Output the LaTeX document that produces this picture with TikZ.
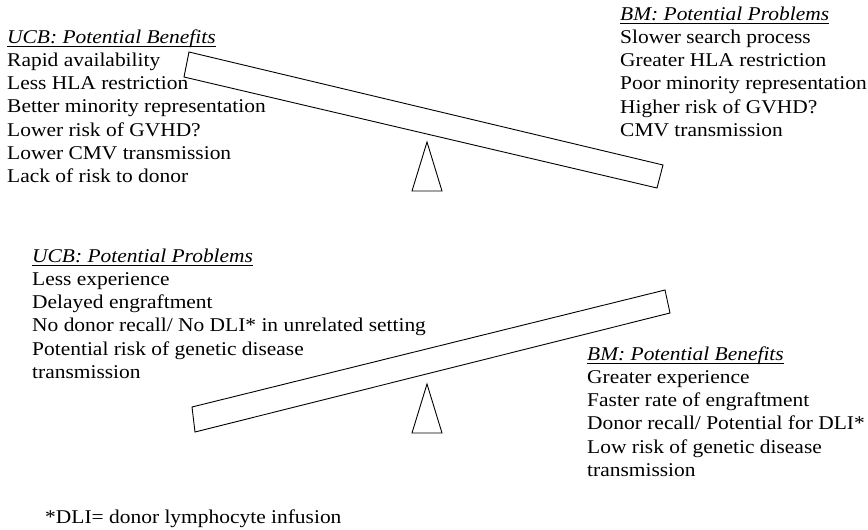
\documentclass[tikz,border=0pt]{standalone}
\usepackage{fontspec}
\setmainfont[FakeStretch=1.1]{Liberation Serif}
\begin{document}
\begin{tikzpicture}[x=1pt,y=-1pt,
  txt/.style={anchor=base west,inner sep=0pt,font=\fontsize{19.5}{22}\selectfont},
  head/.style={txt,font=\fontsize{19.5}{22}\selectfont\itshape},
  ul/.style={line width=0.8pt},
  beam/.style={draw,line width=0.9pt,line join=miter},
  fulcrum/.style={draw,line width=0.9pt}]
\useasboundingbox (0,0) rectangle (868,530);

% ---- upper balance: UCB benefits vs BM problems ----
\node[head] (ucbbh) at (7,43) {UCB: Potential Benefits};
\draw[ul] ([yshift=-3pt]ucbbh.base west) -- ([yshift=-3pt]ucbbh.base east);
\foreach \t [count=\i] in {Rapid availability,Less HLA restriction,Better minority representation,Lower risk of GVHD?,Lower CMV transmission,Lack of risk to donor}
  \node[txt] (ucbb\i) at (7,43+23.3*\i) {\t};

\node[head] (bmph) at (620,20) {BM: Potential Problems};
\draw[ul] ([yshift=-3pt]bmph.base west) -- ([yshift=-3pt]bmph.base east);
\foreach \t [count=\i] in {Slower search process,Greater HLA restriction,Poor minority representation,Higher risk of GVHD?,CMV transmission}
  \node[txt] (bmp\i) at (620,20+23.3*\i) {\t};

\draw[beam] (189,52) -- (663,165) -- (657,188) -- (184,77) -- cycle;
\draw[fulcrum] (427,142) -- (442,191) -- (412,191) -- cycle;

% ---- lower balance: UCB problems vs BM benefits ----
\node[head] (ucbph) at (32,262) {UCB: Potential Problems};
\draw[ul] ([yshift=-3pt]ucbph.base west) -- ([yshift=-3pt]ucbph.base east);
\foreach \t [count=\i] in {Less experience,Delayed engraftment,No donor recall/ No DLI* in unrelated setting,Potential risk of genetic disease,transmission}
  \node[txt] (ucbp\i) at (32,262+23.3*\i) {\t};

\node[head] (bmbh) at (587,360) {BM: Potential Benefits};
\draw[ul] ([yshift=-3pt]bmbh.base west) -- ([yshift=-3pt]bmbh.base east);
\foreach \t [count=\i] in {Greater experience,Faster rate of engraftment,Donor recall/ Potential for DLI*,Low risk of genetic disease,transmission}
  \node[txt] (bmb\i) at (587,360+23.3*\i) {\t};

\draw[beam] (192,407) -- (665,290) -- (670,313) -- (195,432) -- cycle;
\draw[fulcrum] (427,384) -- (442,433) -- (412,433) -- cycle;

% ---- footnote ----
\node[txt] (fn) at (45,523) {*DLI= donor lymphocyte infusion};
\end{tikzpicture}
\end{document}
